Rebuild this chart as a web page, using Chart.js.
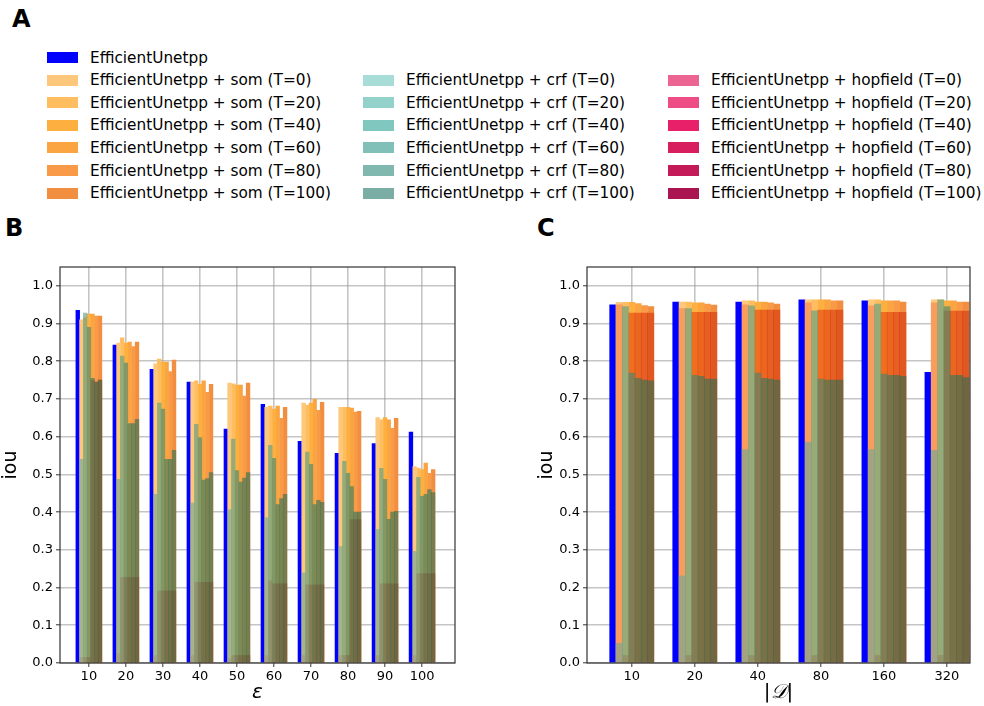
<!DOCTYPE html>
<html>
<head>
<meta charset="utf-8">
<script src="https://cdn.jsdelivr.net/npm/chart.js@4.4.0/dist/chart.umd.min.js"></script>
<style>
  body { margin: 0; background: #fff; font-family: 'DejaVu Sans', sans-serif; }
  #page { position: relative; width: 984px; height: 706px; overflow: hidden; }
  .panel { position: absolute; font-weight: bold; font-size: 24px; line-height: 24px; color: #000; }
  .item { position: absolute; height: 20px; display: flex; align-items: center; font-size: 15.3px; color: #000; white-space: nowrap; }
  .patch { width: 31px; height: 11px; margin-right: 12px; flex: none; }
  canvas { position: absolute; }
</style>
</head>
<body>
<div id="page">
  <div class="panel" style="left:12px; top:7px;">A</div>
  <div class="panel" style="left:5px; top:216px;">B</div>
  <div class="panel" style="left:537px; top:216px;">C</div>
  <div id="legend"></div>
  <canvas id="chartB" width="470" height="466" style="left:0px; top:240px;"></canvas>
  <canvas id="chartC" width="448" height="466" style="left:536px; top:240px;"></canvas>
</div>
<script>
// ---- categories ----
const groupsB = ['10', '20', '30', '40', '50', '60', '70', '80', '90', '100'];
const groupsC = ['10', '20', '40', '80', '160', '320'];
const temps = ['0', '20', '40', '60', '80', '100'];
const methods = ['som', 'crf', 'hopfield'];

// ---- panel B (epsilon) : rows = T, columns = groups ----
const baseB = [0.935, 0.843, 0.779, 0.745, 0.62, 0.686, 0.588, 0.556, 0.582, 0.612];
const somB = [
  [0.91, 0.848, 0.793, 0.745, 0.742, 0.678, 0.689, 0.678, 0.651, 0.521],
  [0.915, 0.862, 0.806, 0.748, 0.74, 0.681, 0.684, 0.678, 0.645, 0.517],
  [0.925, 0.848, 0.798, 0.739, 0.737, 0.673, 0.689, 0.678, 0.651, 0.513],
  [0.925, 0.851, 0.798, 0.748, 0.737, 0.681, 0.699, 0.676, 0.645, 0.53],
  [0.92, 0.839, 0.773, 0.718, 0.708, 0.649, 0.67, 0.665, 0.622, 0.503],
  [0.92, 0.851, 0.803, 0.739, 0.742, 0.678, 0.691, 0.667, 0.649, 0.513]
];
const crfB = [
  [0.54, 0.487, 0.447, 0.424, 0.406, 0.385, 0.239, 0.309, 0.354, 0.296],
  [0.928, 0.814, 0.689, 0.633, 0.594, 0.577, 0.559, 0.535, 0.516, 0.492],
  [0.89, 0.795, 0.673, 0.598, 0.51, 0.543, 0.527, 0.503, 0.487, 0.442],
  [0.755, 0.635, 0.54, 0.485, 0.48, 0.42, 0.42, 0.468, 0.381, 0.447],
  [0.745, 0.635, 0.54, 0.489, 0.49, 0.436, 0.431, 0.40, 0.40, 0.46],
  [0.75, 0.646, 0.564, 0.505, 0.505, 0.447, 0.426, 0.40, 0.402, 0.452]
];
const hopB = [
  [0.015, 0.025, 0.02, 0.02, 0.012, 0.02, 0.02, 0.02, 0.02, 0.02],
  [0.015, 0.227, 0.191, 0.214, 0.02, 0.218, 0.207, 0.02, 0.21, 0.237],
  [0.015, 0.227, 0.191, 0.214, 0.02, 0.21, 0.207, 0.02, 0.21, 0.237],
  [0.75, 0.227, 0.191, 0.214, 0.02, 0.21, 0.207, 0.38, 0.21, 0.237],
  [0.745, 0.227, 0.191, 0.214, 0.02, 0.21, 0.207, 0.38, 0.21, 0.237],
  [0.75, 0.227, 0.191, 0.214, 0.02, 0.21, 0.207, 0.38, 0.21, 0.237]
];

// ---- panel C (|D|) ----
const baseC = [0.95, 0.957, 0.957, 0.963, 0.96, 0.771];
const somC = [
  [0.956, 0.957, 0.96, 0.963, 0.963, 0.963],
  [0.956, 0.957, 0.96, 0.963, 0.963, 0.963],
  [0.956, 0.955, 0.957, 0.963, 0.96, 0.96],
  [0.953, 0.955, 0.957, 0.963, 0.96, 0.96],
  [0.948, 0.952, 0.955, 0.96, 0.96, 0.957],
  [0.945, 0.949, 0.952, 0.96, 0.957, 0.957]
];
const crfC = [
  [0.052, 0.231, 0.566, 0.585, 0.566, 0.564],
  [0.945, 0.94, 0.947, 0.934, 0.952, 0.963],
  [0.769, 0.763, 0.769, 0.753, 0.766, 0.945],
  [0.755, 0.76, 0.755, 0.75, 0.763, 0.763],
  [0.75, 0.753, 0.753, 0.75, 0.763, 0.763],
  [0.748, 0.753, 0.75, 0.75, 0.76, 0.757]
];
const hopC = [
  [0.95, 0.94, 0.95, 0.955, 0.947, 0.955],
  [0.02, 0.02, 0.02, 0.02, 0.02, 0.02],
  [0.928, 0.93, 0.936, 0.936, 0.93, 0.933],
  [0.928, 0.93, 0.936, 0.936, 0.93, 0.933],
  [0.928, 0.93, 0.936, 0.936, 0.93, 0.933],
  [0.928, 0.93, 0.936, 0.936, 0.93, 0.933]
];

const yTicks = [0.0, 0.1, 0.2, 0.3, 0.4, 0.5, 0.6, 0.7, 0.8, 0.9, 1.0];

// ---- colours ----
const baseColor = '#0000ff';
const somColors = ['#fec87c', '#febe60', '#fdb040', '#fba442', '#f89a48', '#f28e40'];
const hopBarColors = ['rgba(244,114,66,0.5)', 'rgba(235,75,25,0.5)', 'rgba(227,44,0,0.5)',
                      'rgba(220,40,0,0.5)', 'rgba(212,36,0,0.5)', 'rgba(206,34,0,0.5)'];
const crfBarColors = ['rgba(106,167,151,0.6)', 'rgba(84,157,133,0.6)', 'rgba(62,133,117,0.6)',
                      'rgba(46,121,95,0.6)', 'rgba(42,117,90,0.6)', 'rgba(40,112,86,0.6)'];
const crfLegend = ['#a8dcd6', '#93d2ca', '#80c8bf', '#80c0b8', '#80b8b0', '#7aaea4'];
const hopLegend = ['#ec6592', '#ee4c84', '#e8206a', '#d81e5e', '#c41a58', '#aa1450'];

// ==========================================
// legend (panel A)
// ==========================================
function addLegendItem(col, row, color, text) {
    const colX = [47, 363, 668];
    const el = document.createElement('div');
    el.className = 'item';
    el.style.left = colX[col] + 'px';
    el.style.top = (57.5 + row * 22.6 - 10) + 'px';
    el.innerHTML = `<span class="patch" style="background:${color}"></span><span>${text}</span>`;
    document.getElementById('legend').appendChild(el);
}

addLegendItem(0, 0, baseColor, 'EfficientUnetpp');
temps.forEach((t, j) => {
    addLegendItem(0, j + 1, somColors[j], `EfficientUnetpp + ${methods[0]} (T=${t})`);
    addLegendItem(1, j + 1, crfLegend[j], `EfficientUnetpp + ${methods[1]} (T=${t})`);
    addLegendItem(2, j + 1, hopLegend[j], `EfficientUnetpp + ${methods[2]} (T=${t})`);
});

// ==========================================
// bar charts
// ==========================================

// slot 0 = baseline, slots 1..6 = T=0..100, group centre at i*10
function slotPoints(values, slot) {
    return values.map((v, i) => ({ x: i * 10 + slot - 3, y: v }));
}

function buildDatasets(base, som, crf, hop) {
    const sets = [{ label: 'EfficientUnetpp', data: slotPoints(base, 0), backgroundColor: baseColor, order: 4 }];
    temps.forEach((t, j) => {
        sets.push({ label: `som T=${t}`, data: slotPoints(som[j], j + 1), backgroundColor: somColors[j], order: 3 });
        sets.push({ label: `hopfield T=${t}`, data: slotPoints(hop[j], j + 1), backgroundColor: hopBarColors[j], order: 2 });
        sets.push({ label: `crf T=${t}`, data: slotPoints(crf[j], j + 1), backgroundColor: crfBarColors[j], order: 1 });
    });
    return sets;
}

// box around the plot area
const framePlugin = {
    id: 'frame',
    afterDraw(chart) {
        const a = chart.chartArea;
        const ctx = chart.ctx;
        ctx.save();
        ctx.strokeStyle = '#333';
        ctx.lineWidth = 1.2;
        ctx.strokeRect(a.left, a.top, a.right - a.left, a.bottom - a.top);
        ctx.restore();
    }
};

const gridStyle = {
    color: 'rgba(150,150,150,0.55)',
    lineWidth: 1.6,
    drawTicks: true,
    tickLength: 4,
    tickColor: '#333',
    tickWidth: 1,
    offset: false
};

function makeChart(id, cats, datasets, xTitle, xMin, xMax, yWidth, padRight) {
    return new Chart(document.getElementById(id), {
        type: 'bar',
        data: { datasets: datasets },
        options: {
            responsive: false,
            animation: false,
            devicePixelRatio: 1,
            layout: { padding: { left: 0, top: 27, right: padRight, bottom: 0 } },
            datasets: { bar: { grouped: false, barPercentage: 1, categoryPercentage: 1, borderWidth: 0 } },
            plugins: { legend: { display: false }, tooltip: { enabled: false } },
            scales: {
                x: {
                    type: 'linear',
                    min: xMin,
                    max: xMax,
                    offset: false,
                    z: 1,
                    grid: gridStyle,
                    border: { display: false },
                    ticks: {
                        stepSize: 10,
                        includeBounds: false,
                        autoSkip: false,
                        maxRotation: 0,
                        padding: 2,
                        color: '#000',
                        font: { family: 'DejaVu Sans', size: 13 },
                        callback: v => (v % 10 === 0 && cats[v / 10] !== undefined) ? cats[v / 10] : ''
                    },
                    title: {
                        display: true,
                        text: xTitle,
                        color: '#000',
                        font: { family: 'DejaVu Sans', size: 20, style: 'italic' },
                        padding: { top: 1, bottom: 1 }
                    },
                    afterFit: s => { s.height = 43; }
                },
                y: {
                    min: 0,
                    max: 1.05,
                    z: 1,
                    grid: gridStyle,
                    border: { display: false },
                    afterBuildTicks: s => { s.ticks = yTicks.map(v => ({ value: v })); },
                    ticks: {
                        padding: 3,
                        color: '#000',
                        font: { family: 'DejaVu Sans', size: 13 },
                        callback: v => v.toFixed(1)
                    },
                    title: {
                        display: true,
                        text: 'iou',
                        color: '#000',
                        font: { family: 'DejaVu Sans', size: 19 },
                        padding: { top: 0, bottom: 0 }
                    },
                    afterFit: s => { s.width = yWidth; }
                }
            }
        },
        plugins: [framePlugin]
    });
}

makeChart('chartB', groupsB, buildDatasets(baseB, somB, crfB, hopB), 'ε', -7.8, 98.9, 60, 15);
makeChart('chartC', groupsC, buildDatasets(baseC, somC, crfC, hopC), '|𝒟|', -7.1, 53.65, 51, 14);
</script>
</body>
</html>
